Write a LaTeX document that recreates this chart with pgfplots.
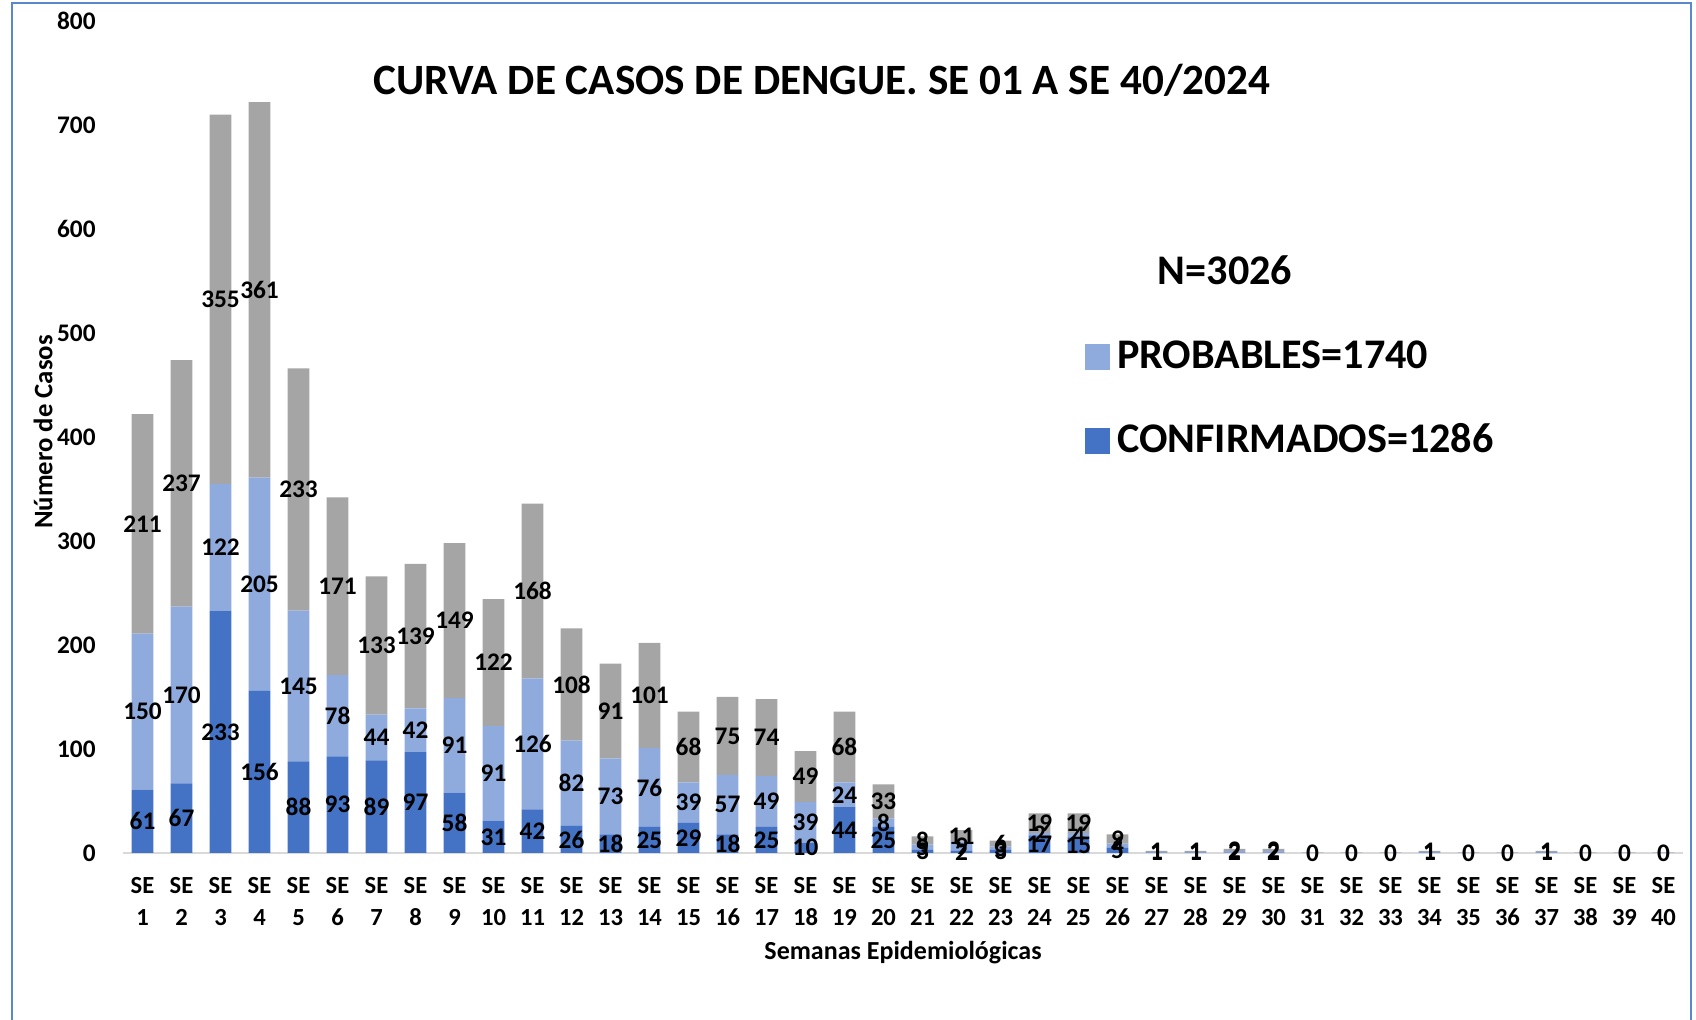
\documentclass[border=0pt]{standalone}
\usepackage{pgfplots}
\pgfplotsset{compat=1.18}
\usepackage{pgfplotstable}
\usepackage{fontspec}
\setmainfont{Carlito}
\definecolor{db}{HTML}{4472C4}
\definecolor{lb}{HTML}{8FAADC}
\definecolor{gr}{HTML}{A5A5A5}
\definecolor{bord}{HTML}{5B87D0}
\pgfplotstableread{
x c p t
1 61 150 211
2 67 170 237
3 233 122 355
4 156 205 361
5 88 145 233
6 93 78 171
7 89 44 133
8 97 42 139
9 58 91 149
10 31 91 122
11 42 126 168
12 26 82 108
13 18 73 91
14 25 76 101
15 29 39 68
16 18 57 75
17 25 49 74
18 10 39 49
19 44 24 68
20 25 8 33
21 3 5 8
22 2 9 11
23 3 3 6
24 17 2 19
25 15 4 19
26 5 4 9
27 0 1 1
28 0 1 1
29 0 2 2
30 0 2 2
31 0 0 0
32 0 0 0
33 0 0 0
34 0 1 1
35 0 0 0
36 0 0 0
37 0 1 1
38 0 0 0
39 0 0 0
40 0 0 0
}\data
\begin{document}
\begin{tikzpicture}
\useasboundingbox (0,0) rectangle (16.96cm,-10.2cm);
\clip (0,0) rectangle (16.96cm,-10.2cm);
\draw[bord, line width=0.8pt] (0.12cm,-0.03cm) rectangle (16.91cm,-10.6cm);
\begin{axis}[
  at={(1.23cm,-8.53cm)}, anchor=south west,
  scale only axis, width=15.6cm, height=8.32cm,
  ybar stacked, bar width=0.217cm,
  stacked ignores zero=false,
  xmin=0.5, xmax=40.5, ymin=0, ymax=800,
  ytick={0,100,...,800},
  xtick={1,...,40},
  /pgf/number format/assume math mode=true,
  xticklabel={SE\\\pgfmathprintnumber{\tick}},
  xticklabel style={align=center, font=\fontsize{7}{9.2}\selectfont\bfseries, yshift=-0.12cm},
  yticklabel style={font=\fontsize{7.2}{8}\selectfont\bfseries, xshift=-0.15cm},
  axis x line*=bottom, axis y line*=left,
  y axis line style={draw=none},
  x axis line style={draw=black!15, line width=0.8pt},
  major tick style={draw=none},
  point meta=explicit symbolic,
  every node near coord/.append style={anchor=center, inner sep=0pt,
     font=\fontsize{7.2}{8}\selectfont\bfseries, text=black},
  legend style={draw=none, fill=none, at={(axis description cs:0.6160,0.6250)}, anchor=north west,
     font=\fontsize{12}{13}\selectfont\bfseries, row sep=0.36cm, inner sep=0pt,
     /tikz/every even column/.append style={column sep=0.12cm}},
  legend cell align=left,
]
\addplot[fill=db, draw=none, forget plot,
  nodes near coords={\ifnum\pgfplotspointmeta=0\relax\else\pgfplotspointmeta\fi}]
  table[x=x, y=c, meta=c] {\data};
\addplot[fill=lb, draw=none, forget plot,
  nodes near coords={\ifnum\pgfplotspointmeta=0\relax\else\pgfplotspointmeta\fi}]
  table[x=x, y=p, meta=p] {\data};
\addplot[fill=gr, draw=none, forget plot,
  nodes near coords={\pgfplotspointmeta}]
  table[x=x, y=t, meta=t] {\data};
\addlegendimage{legend image code/.code={\fill[lb] (0cm,-0.12cm) rectangle (0.24cm,0.12cm);}}
\addlegendentry{PROBABLES=1740}
\addlegendimage{legend image code/.code={\fill[db] (0cm,-0.12cm) rectangle (0.24cm,0.12cm);}}
\addlegendentry{CONFIRMADOS=1286}
\end{axis}
\node[font=\fontsize{12.3}{14}\selectfont\bfseries] at (8.22cm,-0.80cm) {CURVA DE CASOS DE DENGUE. SE 01 A SE 40/2024};
\node[font=\fontsize{12}{13}\selectfont\bfseries] at (12.25cm,-2.70cm) {N=3026};
\node[font=\fontsize{7.4}{9}\selectfont\bfseries] at (9.03cm,-9.53cm) {Semanas Epidemiológicas};
\node[rotate=90, font=\fontsize{7.6}{9}\selectfont\bfseries] at (0.43cm,-4.32cm) {Número de Casos};
\end{tikzpicture}
\end{document}
